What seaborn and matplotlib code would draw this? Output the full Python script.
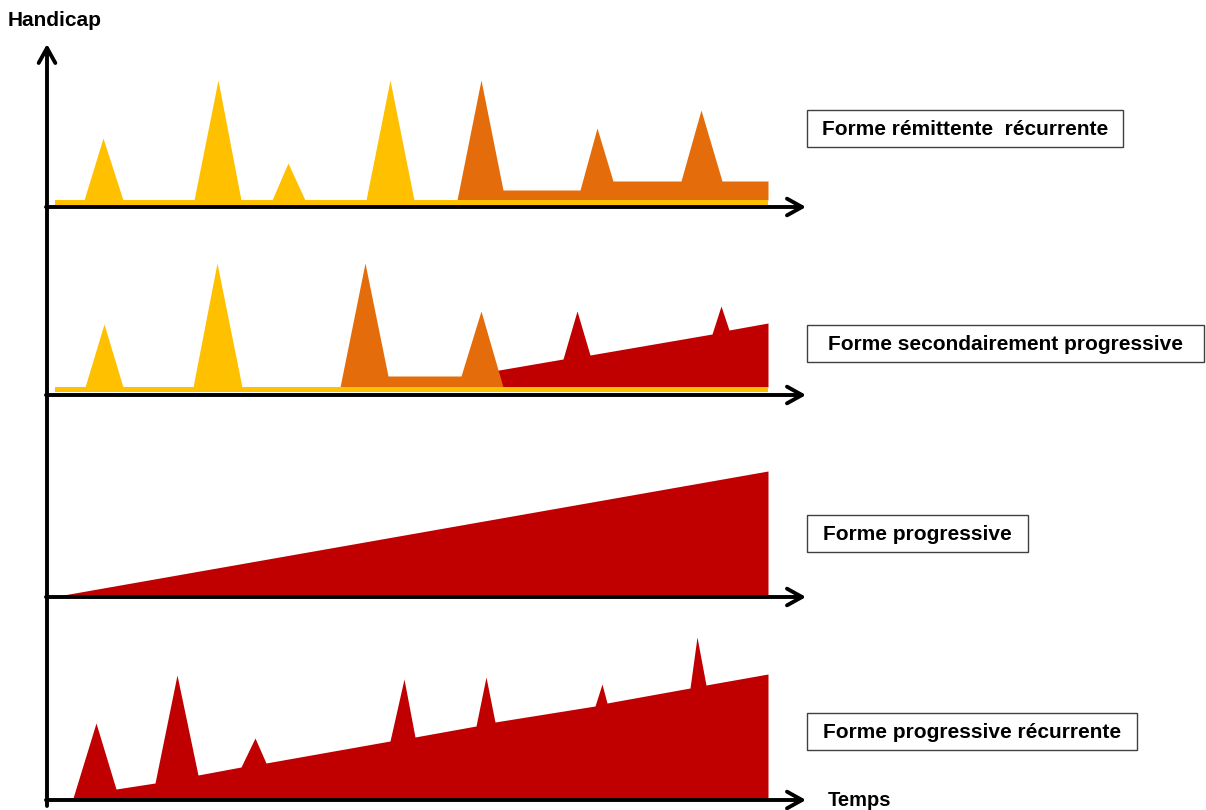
import matplotlib
matplotlib.use("Agg")
import matplotlib.pyplot as plt
from matplotlib.patches import Rectangle
import seaborn as sns

# colours of the three stages
YELLOW = "#FFC000"
ORANGE = "#E46C0A"
RED = "#C00000"

# baselines of the four panels (figure pixels from top)
baselines = [207, 395, 597, 800]
x_start, x_end = 55, 768

# panel 1 - forme rémittente récurrente
p1_band = (2, 7)
p1_peaks_x = [(84, 103, 123), (194, 218, 241), (272, 288, 305), (366, 390, 414)]
p1_peaks_h = [69, 127, 44, 127]
p1_orange_x = [457, 481, 503, 580, 597, 613, 681, 701, 722, 768]
p1_orange_h = [7, 127, 17, 17, 79, 26, 26, 97, 26, 26]

# panel 2 - forme secondairement progressive
p2_band = (3, 8)
p2_peaks_x = [(85, 104, 123), (193, 217, 242)]
p2_peaks_h = [71, 132]
p2_orange_x = [340, 365, 388, 461, 481, 503]
p2_orange_h = [8, 132, 19, 19, 84, 8]
p2_red_x = [400, 563, 577, 590, 712, 721, 729, 768]
p2_red_h = [8, 36, 84, 40, 61, 89, 65, 72]

# panel 3 - forme progressive
p3_red_x = [52, 768]
p3_red_h = [0, 126]

# panel 4 - forme progressive récurrente
p4_red_x = [53, 73, 96, 116, 155, 177, 198, 241, 255, 266, 390, 404, 415,
            476, 486, 495, 595, 602, 607, 690, 697, 706, 768]
p4_red_h = [0, 2, 77, 11, 17, 125, 25, 33, 62, 37, 59, 121, 63,
            74, 123, 78, 94, 116, 97, 112, 163, 115, 126]

labels = ["Forme rémittente  récurrente", "Forme secondairement progressive",
          "Forme progressive", "Forme progressive récurrente"]
label_y = [128, 343, 533, 731]
label_pad = [15, 21, 16, 16]

sns.set_theme(style="white")
plt.rcParams["font.family"] = ["Liberation Sans", "DejaVu Sans"]
plt.rcParams["text.color"] = "black"

fig = plt.figure(figsize=(12.06, 8.10), dpi=100)
ax = fig.add_axes([0, 0, 1, 1])
ax.set_xlim(0, 1206)
ax.set_ylim(810, 0)
ax.axis("off")


def area(base, xs, hs, color, floor=0, z=2):
    ys = [base - h for h in hs]
    ax.fill_between(xs, ys, base - floor, color=color, lw=0, zorder=z)


def peaks(base, px, ph, floor, color, z=2):
    for (a, b, c), h in zip(px, ph):
        area(base, [a, b, c], [floor, h, floor], color, floor=floor, z=z)


def band(base, lims, z=4):
    lo, hi = lims
    ax.fill_between([x_start, x_end], base - hi, base - lo, color=YELLOW, lw=0, zorder=z)


# panel 1
b = baselines[0]
peaks(b, p1_peaks_x, p1_peaks_h, p1_band[1], YELLOW)
area(b, p1_orange_x + [768], p1_orange_h + [p1_band[1]], ORANGE, floor=p1_band[1])
band(b, p1_band)

# panel 2
b = baselines[1]
area(b, p2_red_x, p2_red_h, RED, floor=p2_band[1], z=2)
peaks(b, p2_peaks_x, p2_peaks_h, p2_band[1], YELLOW, z=3)
area(b, p2_orange_x, p2_orange_h, ORANGE, floor=p2_band[1], z=3)
band(b, p2_band)

# panel 3
b = baselines[2]
area(b, p3_red_x, p3_red_h, RED)

# panel 4
b = baselines[3]
area(b, p4_red_x, p4_red_h, RED)

# axes with arrow heads
arrow = dict(arrowstyle="->,head_length=0.9,head_width=0.5", lw=2.8, color="black",
             shrinkA=0, shrinkB=0)
ax.annotate("", xy=(47, 44), xytext=(47, 806), arrowprops=arrow, zorder=6)
for b in baselines:
    ax.annotate("", xy=(806, b), xytext=(46, b), arrowprops=arrow, zorder=6)

ax.text(8, 20, "Handicap", fontsize=15, fontweight="bold", va="center", ha="left")
ax.text(828, 801, "Temps", fontsize=14.5, fontweight="bold", va="center", ha="left")

fig.canvas.draw()
renderer = fig.canvas.get_renderer()
for txt, y, pad in zip(labels, label_y, label_pad):
    t = ax.text(807 + pad, y + 1.5, txt, fontsize=15, fontweight="bold", va="center", ha="left", zorder=7)
    ext = t.get_window_extent(renderer)
    width = ext.width + 2 * pad
    ax.add_patch(Rectangle((807, y - 18.5), width, 37, fill=False, ec="#404040", lw=1.0, zorder=7))

fig.savefig("out.png", dpi=100)
